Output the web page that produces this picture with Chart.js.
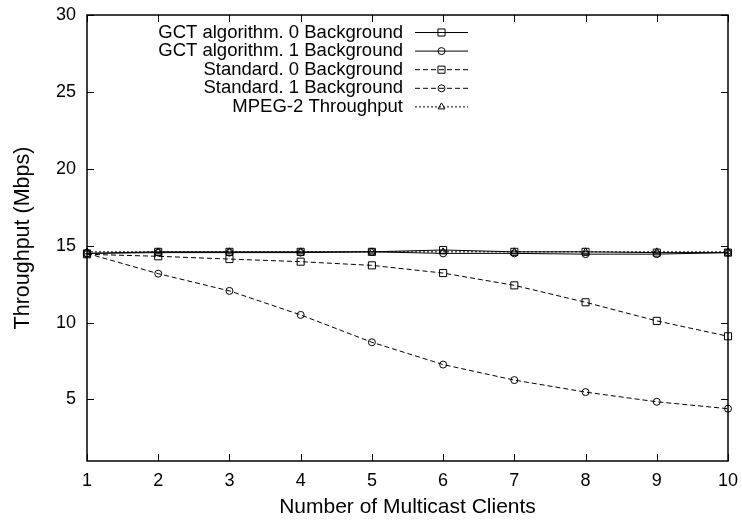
<!DOCTYPE html>
<html>
<head>
<meta charset="utf-8">
<title>Throughput vs number of multicast clients</title>
<script src="https://cdn.jsdelivr.net/npm/chart.js@4.4.1/dist/chart.umd.min.js"></script>
<style>
  html, body { margin: 0; padding: 0; background: #fff; }
  #wrap { width: 742px; height: 520px; }
</style>
</head>
<body>
<div id="wrap"><canvas id="chart"></canvas></div>
<script>
// values
const clients = [1, 2, 3, 4, 5, 6, 7, 8, 9, 10];
const gct0 = [14.5, 14.6, 14.6, 14.6, 14.6, 14.72, 14.6, 14.6, 14.55, 14.55];
const gct1 = [14.5, 14.55, 14.55, 14.55, 14.6, 14.5, 14.5, 14.45, 14.45, 14.55];
const std0 = [14.44, 14.31, 14.13, 13.96, 13.72, 13.22, 12.42, 11.32, 10.11, 9.11];
const std1 = [14.5, 13.18, 12.06, 10.5, 8.72, 7.27, 6.26, 5.48, 4.85, 4.4];
const mpeg = [14.6, 14.6, 14.6, 14.6, 14.6, 14.6, 14.6, 14.6, 14.6, 14.6];
const yTicks = [5, 10, 15, 20, 25, 30];

const FONT = '"Liberation Sans", Arial, Helvetica, sans-serif';

const toPoints = vals => clients.map((c, i) => ({ x: c, y: vals[i] }));

function series(label, vals, style, radius, dash) {
  return {
    label,
    data: toPoints(vals),
    borderColor: '#000',
    borderWidth: 1,
    borderDash: dash,
    pointStyle: style,
    pointRadius: radius,
    pointHoverRadius: radius,
    pointBorderColor: '#000',
    pointBackgroundColor: 'rgba(0,0,0,0)',
    pointBorderWidth: 1,
    fill: false,
    tension: 0,
    clip: false
  };
}

// box round the plot + gnuplot style inward tick marks
const frameTicks = {
  id: 'frameTicks',
  beforeDatasetsDraw(chart) {
    const { ctx, chartArea: a, scales: { x, y } } = chart;
    const len = 7;
    ctx.save();
    ctx.strokeStyle = '#000';
    ctx.lineWidth = 1;
    ctx.beginPath();
    clients.forEach(v => {
      const px = Math.round(x.getPixelForValue(v)) + 0.5;
      ctx.moveTo(px, a.bottom); ctx.lineTo(px, a.bottom - len);
      ctx.moveTo(px, a.top); ctx.lineTo(px, a.top + len);
    });
    yTicks.forEach(v => {
      const py = Math.round(y.getPixelForValue(v)) + 0.5;
      ctx.moveTo(a.left, py); ctx.lineTo(a.left + len, py);
      ctx.moveTo(a.right, py); ctx.lineTo(a.right - len, py);
    });
    ctx.stroke();
    ctx.lineWidth = 1.5;
    ctx.strokeRect(a.left, a.top, a.right - a.left, a.bottom - a.top);
    ctx.restore();
  }
};

// legend in the gnuplot way: text right aligned, sample line + marker after it
const keyBox = {
  id: 'keyBox',
  afterDatasetsDraw(chart) {
    const { ctx, chartArea: a } = chart;
    const textRight = a.left + 316;
    const lineL = a.left + 328, lineR = a.left + 381;
    const mid = (lineL + lineR) / 2;
    ctx.save();
    ctx.font = '18.5px ' + FONT;
    ctx.textAlign = 'right';
    ctx.textBaseline = 'middle';
    chart.data.datasets.forEach((ds, i) => {
      const yy = a.top + 17.5 + i * 18.6;
      ctx.fillStyle = '#000';
      ctx.fillText(ds.label, textRight, yy);
      ctx.strokeStyle = '#000';
      ctx.lineWidth = 1;
      ctx.setLineDash(ds.borderDash || []);
      ctx.beginPath();
      ctx.moveTo(lineL, yy); ctx.lineTo(lineR, yy);
      ctx.stroke();
      ctx.setLineDash([]);
      ctx.fillStyle = 'rgba(0,0,0,0)';
      if (Chart.helpers && Chart.helpers.drawPoint) {
        Chart.helpers.drawPoint(ctx, { pointStyle: ds.pointStyle, radius: ds.pointRadius, borderWidth: 1, rotation: 0 }, mid, yy);
      }
    });
    ctx.restore();
  }
};

new Chart(document.getElementById('chart'), {
  type: 'line',
  data: {
    datasets: [
      series('GCT algorithm. 0 Background', gct0, 'rect', 5, []),
      series('GCT algorithm. 1 Background', gct1, 'circle', 3.5, []),
      series('Standard. 0 Background', std0, 'rect', 5, [5, 3]),
      series('Standard. 1 Background', std1, 'circle', 3.5, [5, 3]),
      series('MPEG-2 Throughput', mpeg, 'triangle', 4, [2, 2])
    ]
  },
  options: {
    responsive: true,
    maintainAspectRatio: false,
    animation: false,
    layout: { padding: { top: 15, right: 14, left: 0, bottom: 0 } },
    plugins: {
      legend: { display: false },
      tooltip: { enabled: false }
    },
    scales: {
      x: {
        type: 'linear',
        min: 1,
        max: 10,
        ticks: { stepSize: 1, padding: 9, color: '#000', font: { family: FONT, size: 18 } },
        grid: { display: false, drawTicks: false },
        border: { display: false },
        title: {
          display: true,
          text: 'Number of Multicast Clients',
          color: '#000',
          font: { family: FONT, size: 21 },
          padding: { top: 0, bottom: 0 }
        },
        afterFit(s) { s.height = 59; s.paddingLeft = 0; s.paddingRight = 0; }
      },
      y: {
        min: 1,
        max: 30,
        afterBuildTicks(s) { s.ticks = yTicks.map(v => ({ value: v })); },
        ticks: { padding: 11, color: '#000', font: { family: FONT, size: 18 } },
        grid: { display: false, drawTicks: false },
        border: { display: false },
        title: {
          display: true,
          text: 'Throughput (Mbps)',
          color: '#000',
          font: { family: FONT, size: 21.5 },
          padding: { top: 10, bottom: 0 }
        },
        afterFit(s) { s.width = 87; s.paddingTop = 0; s.paddingBottom = 0; }
      }
    }
  },
  plugins: [frameTicks, keyBox]
});
</script>
</body>
</html>
